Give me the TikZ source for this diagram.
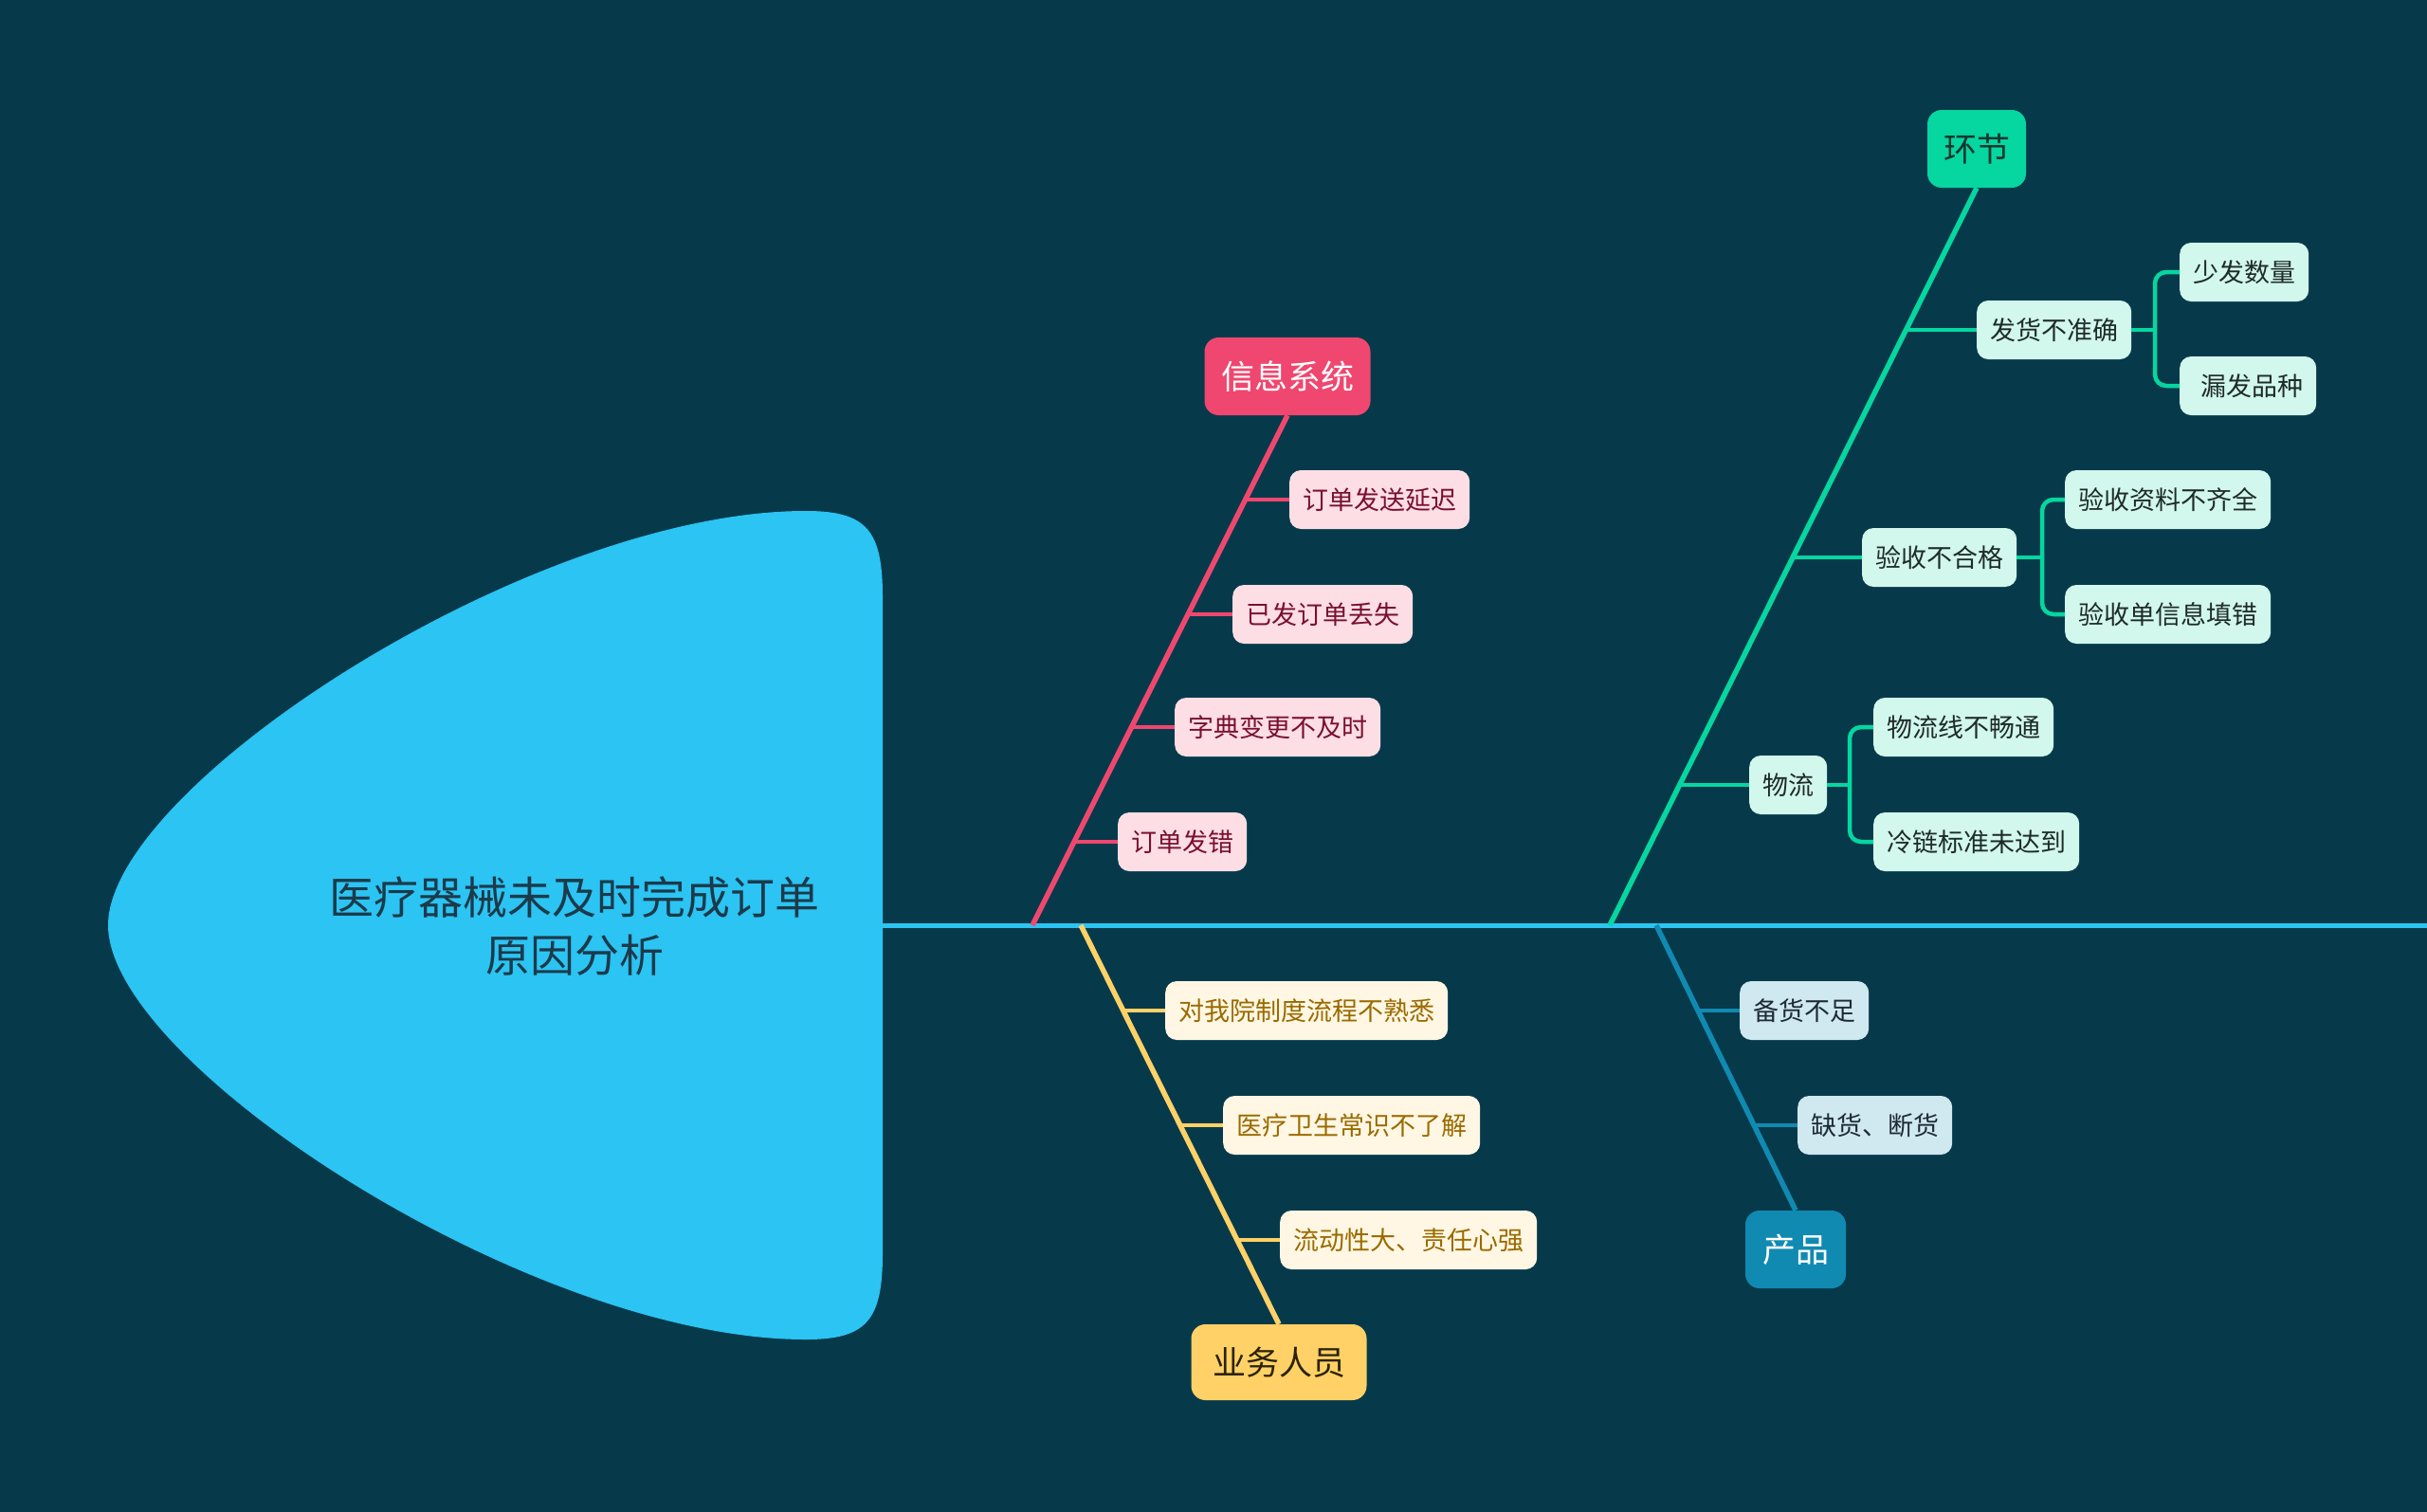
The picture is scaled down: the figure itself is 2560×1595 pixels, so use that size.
\documentclass[tikz,border=0pt]{standalone}
\usepackage{fontspec}
\setmainfont{Noto Sans CJK SC}
\usetikzlibrary{calc}
\definecolor{bg}{HTML}{063A4B}
\definecolor{spine}{HTML}{2BC4F3}
\definecolor{headtxt}{HTML}{1C3A4A}
\definecolor{pinkM}{HTML}{EF476F}
\definecolor{pinkC}{HTML}{FDDEE5}
\definecolor{pinkT}{HTML}{7A1030}
\definecolor{yelM}{HTML}{FFD166}
\definecolor{yelC}{HTML}{FFF7E3}
\definecolor{yelT}{HTML}{9A6A00}
\definecolor{yelMT}{HTML}{2B2208}
\definecolor{grnM}{HTML}{06D6A0}
\definecolor{grnC}{HTML}{D2F7EC}
\definecolor{grnT}{HTML}{1E2B28}
\definecolor{grnMT}{HTML}{15372E}
\definecolor{tealM}{HTML}{118AB2}
\definecolor{tealC}{HTML}{D0E8F0}
\definecolor{tealT}{HTML}{1D2B33}
\tikzset{
  child/.style={rounded corners=12pt, inner xsep=14pt, inner ysep=0pt, minimum height=62pt,
    font=\fontsize{27}{31}\selectfont, anchor=west},
  mainbox/.style={rounded corners=15pt, inner xsep=17pt, inner ysep=0pt, minimum height=82pt,
    font=\fontsize{35}{41}\selectfont},
  branch/.style={line width=5.5pt},
  tick/.style={line width=4.5pt},
  brk/.style={line width=4.5pt, rounded corners=12pt},
}
\begin{document}
\begin{tikzpicture}[x=1pt,y=-1pt]
\fill[bg] (0,0) rectangle (2560,1595);
\useasboundingbox (0,0) rectangle (2560,1595);

% spine
\coordinate (spL) at (931,976);
\coordinate (spR) at (2560,976);
\draw[spine, line width=5pt] (spL) -- (spR);

% head
\fill[spine] (931,976) -- (931,630) .. controls (931,560) and (915,539) .. (850,539)
  .. controls (560,539) and (114,830) .. (114,976)
  .. controls (114,1122) and (560,1413) .. (850,1413)
  .. controls (915,1413) and (931,1392) .. (931,1322) -- cycle;
\node[headtxt, align=center, font=\fontsize{47}{61}\selectfont] (head) at (606,977)
  {医疗器械未及时完成订单\\原因分析};

% ===== pink branch: 信息系统 =====
\node[mainbox, fill=pinkM, text=white, minimum width=175pt] (xx) at (1358,397) {信息系统};
\coordinate (xs) at (1089,976);
\draw[branch, pinkM] (xx.south) -- (xs);
\node[child, fill=pinkC, text=pinkT] (x1) at (1360,527) {订单发送延迟};
\node[child, fill=pinkC, text=pinkT] (x2) at (1300,648) {已发订单丢失};
\node[child, fill=pinkC, text=pinkT] (x3) at (1239,767) {字典变更不及时};
\node[child, fill=pinkC, text=pinkT] (x4) at (1179,888) {订单发错};
\coordinate (xt1) at (1313.5,527);
\coordinate (xt2) at (1253,648);
\coordinate (xt3) at (1193.5,767);
\coordinate (xt4) at (1133,888);
\foreach \i in {1,...,4} \draw[tick, pinkM] (xt\i) -- (x\i.west);

% ===== yellow branch: 业务人员 =====
\node[mainbox, fill=yelM, text=yelMT, minimum width=185pt, minimum height=80pt] (yy) at (1349,1437) {业务人员};
\coordinate (ys) at (1140,976);
\draw[branch, yelM] (ys) -- (yy.north);
\node[child, fill=yelC, text=yelT] (y1) at (1229,1066) {对我院制度流程不熟悉};
\node[child, fill=yelC, text=yelT] (y2) at (1290,1187) {医疗卫生常识不了解};
\node[child, fill=yelC, text=yelT] (y3) at (1350,1308) {流动性大、责任心强};
\coordinate (yt1) at (1184.7,1066);
\coordinate (yt2) at (1244.7,1187);
\coordinate (yt3) at (1304.8,1308);
\foreach \i in {1,...,3} \draw[tick, yelM] (yt\i) -- (y\i.west);

% ===== green branch: 环节 =====
\node[mainbox, fill=grnM, text=grnMT, minimum width=104pt] (gg) at (2085,157) {环节};
\coordinate (gs) at (1698,976);
\draw[branch, grnM] (gg.south) -- (gs);
\node[child, fill=grnC, text=grnT] (g1) at (2085,348) {发货不准确};
\node[child, fill=grnC, text=grnT] (g2) at (1964,588) {验收不合格};
\node[child, fill=grnC, text=grnT] (g3) at (1845,828) {物流};
\coordinate (gt1) at (2010.4,348);
\coordinate (gt2) at (1891,588);
\coordinate (gt3) at (1771.6,828);
\foreach \i in {1,...,3} \draw[tick, grnM] (gt\i) -- (g\i.west);
% level 3
\node[child, fill=grnC, text=grnT] (g11) at (2299,287) {少发数量};
\node[child, fill=grnC, text=grnT] (g12) at (2299,407) {\hspace{8pt}漏发品种};
\node[child, fill=grnC, text=grnT] (g21) at (2178,527) {验收资料不齐全};
\node[child, fill=grnC, text=grnT] (g22) at (2178,648) {验收单信息填错};
\node[child, fill=grnC, text=grnT] (g31) at (1976,767) {物流线不畅通};
\node[child, fill=grnC, text=grnT] (g32) at (1976,888) {冷链标准未达到};
\coordinate (gb1) at (2273,348);
\coordinate (gb2) at (2154,588);
\coordinate (gb3) at (1951,828);
\foreach \i in {1,2,3} {
  \draw[tick, grnM] (g\i.east) -- (gb\i);
  \draw[brk, grnM] (g\i1.west) -| (gb\i) |- (g\i2.west);
}

% ===== teal branch: 产品 =====
\node[mainbox, fill=tealM, text=white, minimum width=106pt] (tt) at (1894,1318) {产品};
\coordinate (ts) at (1747,976);
\draw[branch, tealM] (ts) -- (tt.north);
\node[child, fill=tealC, text=tealT] (t1) at (1835,1066) {备货不足};
\node[child, fill=tealC, text=tealT] (t2) at (1896,1187) {缺货、断货};
\coordinate (tk1) at (1791,1066);
\coordinate (tk2) at (1850,1187);
\foreach \i in {1,2} \draw[tick, tealM] (tk\i) -- (t\i.west);
\end{tikzpicture}
\end{document}
